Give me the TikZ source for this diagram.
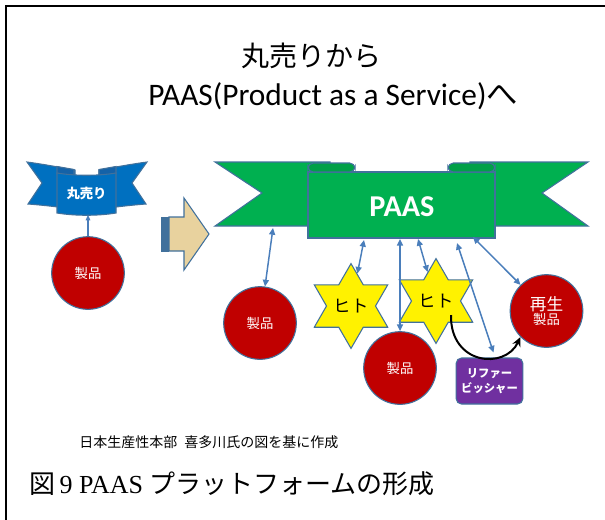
\documentclass[tikz,border=0pt]{standalone}
\usepackage{fontspec}
\setmainfont{Liberation Serif}
\newfontfamily\jp{Noto Sans CJK JP}
\newfontfamily\calibrifont{Carlito}
\usetikzlibrary{shapes.geometric,arrows.meta,calc}

\definecolor{ribgreen}{HTML}{00B050}
\definecolor{foldgreen}{HTML}{00A048}
\definecolor{ribblue}{HTML}{0070C0}
\definecolor{foldblue}{HTML}{1462A8}
\definecolor{edge}{HTML}{41719C}
\definecolor{prodred}{HTML}{C00000}
\definecolor{linkblue}{HTML}{4A7EBB}
\definecolor{paper}{HTML}{E8D29E}
\definecolor{refurb}{HTML}{7030A0}

\tikzset{
  outline/.style={draw=edge, line width=0.8pt},
  product/.style={circle, fill=prodred, outline, minimum size=54.5pt, inner sep=0pt,
    text=white, font=\jp\fontsize{10}{12}\selectfont},
  person/.style={star, star points=6, star point ratio=1.73, minimum size=55pt,
    inner sep=0pt, fill=yellow, outline, font=\jp\fontsize{13}{15}\selectfont},
  twoway/.style={draw=linkblue, line width=1.1pt,
    {Triangle[length=5pt,width=4.5pt]}-{Triangle[length=5pt,width=4.5pt]}},
  oneway/.style={draw=linkblue, line width=0.8pt, -{Triangle[length=4pt,width=3.5pt]}},
}

\begin{document}
\begin{tikzpicture}[x=0.75pt,y=-0.75pt]
\useasboundingbox (0,0) rectangle (605,519);
\fill[white] (0,0) rectangle (605,519);
\clip (0,0) rectangle (605,519);

% frame
\draw[line width=1.5pt] (6,6) rectangle (640,560);

% title
\node[anchor=base, font=\jp\fontsize{21}{25}\selectfont] (t1) at (311,66) {丸売りから};
\node[anchor=base west, inner sep=0pt, font=\calibrifont\fontsize{23.5}{28}\selectfont] (t2) at (148,105)
  {PAAS(Product as a Service){\jp へ}};

% blue ribbon (selling outright)
\draw[fill=ribblue, outline] (27,162) .. controls (42,164) and (58,167) .. (75,170)
  -- (75,209) .. controls (58,207) and (42,205) .. (28,204) -- (42,183) -- cycle;
\draw[fill=ribblue, outline] (147,162) .. controls (132,164) and (116,167) .. (99,170)
  -- (99,209) .. controls (116,207) and (132,205) .. (146,204) -- (132,183) -- cycle;
\draw[fill=foldblue, outline] (57,166.5) -- (74,169.5) -- (74,177) -- (57,174) -- cycle;
\draw[fill=foldblue, outline] (116,166.5) -- (99,169.5) -- (99,177) -- (116,174) -- cycle;
\draw[fill=ribblue, outline] (57,173) .. controls (75,176) and (98,176) .. (116,173)
  -- (116,213) .. controls (98,216) and (75,216) .. (57,213) -- cycle;
\node[text=white, font=\jp\bfseries\fontsize{10}{12}\selectfont] (sell) at (86.5,193) {丸売り};
\coordinate (sellfoot) at (88,215);

% product under the blue ribbon
\node[product] (c0) at (88,273) {製品};
\draw[oneway] (c0) -- (sellfoot);

% striped arrow
\draw[fill=edge, draw=edge, line width=0.6pt] (161,217) rectangle (165,251);
\draw[fill=edge, draw=edge, line width=0.6pt] (166.5,217) rectangle (168,251);
\draw[fill=paper, outline] (169,217) -- (184,217) -- (184,198) -- (209,234)
  -- (184,270) -- (184,251) -- (169,251) -- cycle;

% green ribbon (PAAS)
\draw[fill=ribgreen, outline] (215,162) -- (330,162) -- (330,226) -- (215,226) -- (262,193) -- cycle;
\draw[fill=ribgreen, outline] (588,162) -- (470,162) -- (470,226) -- (588,226) -- (542,193) -- cycle;
\draw[fill=ribgreen, outline] (308,172) rectangle (495,238);
\draw[fill=foldgreen, outline, rounded corners=4pt] (308,163) rectangle (355,172);
\draw[fill=foldgreen, outline, rounded corners=4pt] (448,163) rectangle (495,172);
\node[text=white, font=\calibrifont\bfseries\fontsize{22.7}{27}\selectfont] (paas) at (402,207) {PAAS};

% ends of the links on the ribbon
\coordinate (l1) at (273,228);
\coordinate (l2) at (364,240);
\coordinate (l3) at (400,239);
\coordinate (l4) at (418,239);
\coordinate (l5) at (457,243);
\coordinate (l6) at (473,237);

% participants
\node[product] (c1) at (260,323) {製品};
\node[product] (c2) at (400,368) {製品};
\node[product, align=center] (c3) at (546.5,311)
  {{\fontsize{12.5}{14}\selectfont 再生}\\[-1pt]製品};
\node[person] (s1) at (351,306) {ヒト};
\node[person] (s2) at (436,301) {ヒト};
\node[fill=refurb, outline, rounded corners=4pt, minimum width=50pt, minimum height=34.5pt,
  inner sep=1pt, align=center, text=white, font=\jp\bfseries\fontsize{8.5}{11}\selectfont]
  (rb) at (489.5,381) {リファー\\ビッシャー};
\coordinate (rtop) at ($(rb.north)+(4,-5)$);

% two-way links
\draw[twoway] (l1) -- (c1);
\draw[twoway] (l2) -- (s1);
\draw[twoway] (l3) -- (c2);
\draw[twoway] (l4) -- (s2);
\draw[twoway] (l5) -- (rtop);
\draw[twoway] (l6) -- (c3);

% person to remanufactured product
\coordinate (handoff) at (451,315);
\draw[line width=1.5pt, -{Stealth[length=7pt,width=6.5pt]}]
  (handoff) .. controls (450,365) and (505,370) .. (c3.south west);

% credits and caption
\node[anchor=base west, inner sep=0pt, font=\jp\fontsize{10.5}{12}\selectfont] (src) at (79,447)
  {日本生産性本部\hspace{0.5em}喜多川氏の図を基に作成};
\node[anchor=base west, inner sep=0pt, font=\fontsize{19.5}{23}\selectfont] (cap) at (29,493)
  {{\jp 図}\,9 PAAS {\jp プラットフォームの形成}};
\end{tikzpicture}
\end{document}
